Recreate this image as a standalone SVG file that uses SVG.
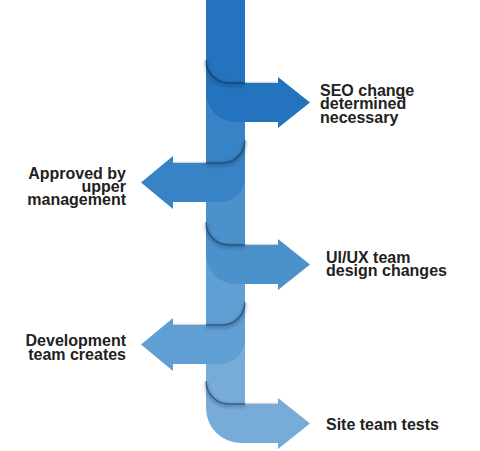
<svg xmlns="http://www.w3.org/2000/svg" width="480" height="451" viewBox="0 0 480 451">
  <defs>
    <style>
      .lbl { font-family: "Liberation Sans", Arial, sans-serif; font-weight: bold; font-size: 16px; fill: #222; }
      .fold { fill: none; stroke: #0d2743; stroke-opacity: 0.5; stroke-width: 1.4; }
      .foldsoft { fill: none; stroke: #0d2743; stroke-opacity: 0.25; stroke-width: 4; filter: url(#blur); }
      .strip { fill: url(#stripGrad); }
    </style>
    <filter id="blur" x="-20%" y="-20%" width="140%" height="140%">
      <feGaussianBlur stdDeviation="1.4"/>
    </filter>
    <linearGradient id="stripGrad" x1="0" y1="0" x2="0" y2="1">
      <stop offset="0" stop-color="#ffffff" stop-opacity="0"/>
      <stop offset="1" stop-color="#b9b9b9"/>
    </linearGradient>
  </defs>

  <g id="connectors">
    <rect class="strip" x="245" y="80.5" width="33" height="2.5"/>
    <rect class="strip" x="173" y="160.5" width="33" height="2.5"/>
    <rect class="strip" x="245" y="242.5" width="33" height="2.5"/>
    <rect class="strip" x="173" y="322.5" width="33" height="2.5"/>
    <rect class="strip" x="245" y="401.5" width="33" height="2.5"/>
  </g>

  <g id="step5">
    <path fill="#77acd9" d="M206,300 H245 V404 H278 V398 L310,423.5 L278,449 V443 H241 A35,35 0 0 1 206,408 Z"/>
    <path class="foldsoft" d="M206,382.5 A23,23 0 0 0 229,405.5 H245"/>
    <path class="fold" d="M206,381 A23,23 0 0 0 229,404 H245"/>
    <text class="lbl" x="326" y="430">Site team tests</text>
  </g>

  <g id="step4">
    <path fill="#609fd3" d="M206,220 H245 V339 A25,25 0 0 1 220,364 H173 V371 L141,344.5 L173,318 V325 H206 Z"/>
    <path class="foldsoft" d="M245,303.5 A23,23 0 0 1 222,326.5 H206"/>
    <path class="fold" d="M245,302 A23,23 0 0 1 222,325 H206"/>
    <text class="lbl" text-anchor="end" x="126" y="346">Development</text>
    <text class="lbl" text-anchor="end" x="126" y="359.5">team creates</text>
  </g>

  <g id="step3">
    <path fill="#4b91cb" d="M206,140 H245 V245 H278 V239 L310,264.5 L278,290 V284 H236 A30,30 0 0 1 206,254 Z"/>
    <path class="foldsoft" d="M206,223.5 A23,23 0 0 0 229,246.5 H245"/>
    <path class="fold" d="M206,222 A23,23 0 0 0 229,245 H245"/>
    <text class="lbl" x="326" y="262.5">UI/UX team</text>
    <text class="lbl" x="326" y="276">design changes</text>
  </g>

  <g id="step2">
    <path fill="#3883c5" d="M206,60 H245 V177 A25,25 0 0 1 220,202 H173 V209 L141,182.5 L173,156 V163 H206 Z"/>
    <path class="foldsoft" d="M245,141.5 A23,23 0 0 1 222,164.5 H206"/>
    <path class="fold" d="M245,140 A23,23 0 0 1 222,163 H206"/>
    <text class="lbl" text-anchor="end" x="126" y="178.5">Approved by</text>
    <text class="lbl" text-anchor="end" x="126" y="191.5">upper</text>
    <text class="lbl" text-anchor="end" x="126" y="204.5">management</text>
  </g>

  <g id="step1">
    <path fill="#2373be" d="M206,0 H245 V83 H278 V77 L310,102.5 L278,128 V122 H236 A30,30 0 0 1 206,92 Z"/>
    <path class="foldsoft" d="M206,61.5 A23,23 0 0 0 229,84.5 H245"/>
    <path class="fold" d="M206,60 A23,23 0 0 0 229,83 H245"/>
    <text class="lbl" x="320" y="95.5">SEO change</text>
    <text class="lbl" x="320" y="109">determined</text>
    <text class="lbl" x="320" y="122.5">necessary</text>
  </g>
</svg>
